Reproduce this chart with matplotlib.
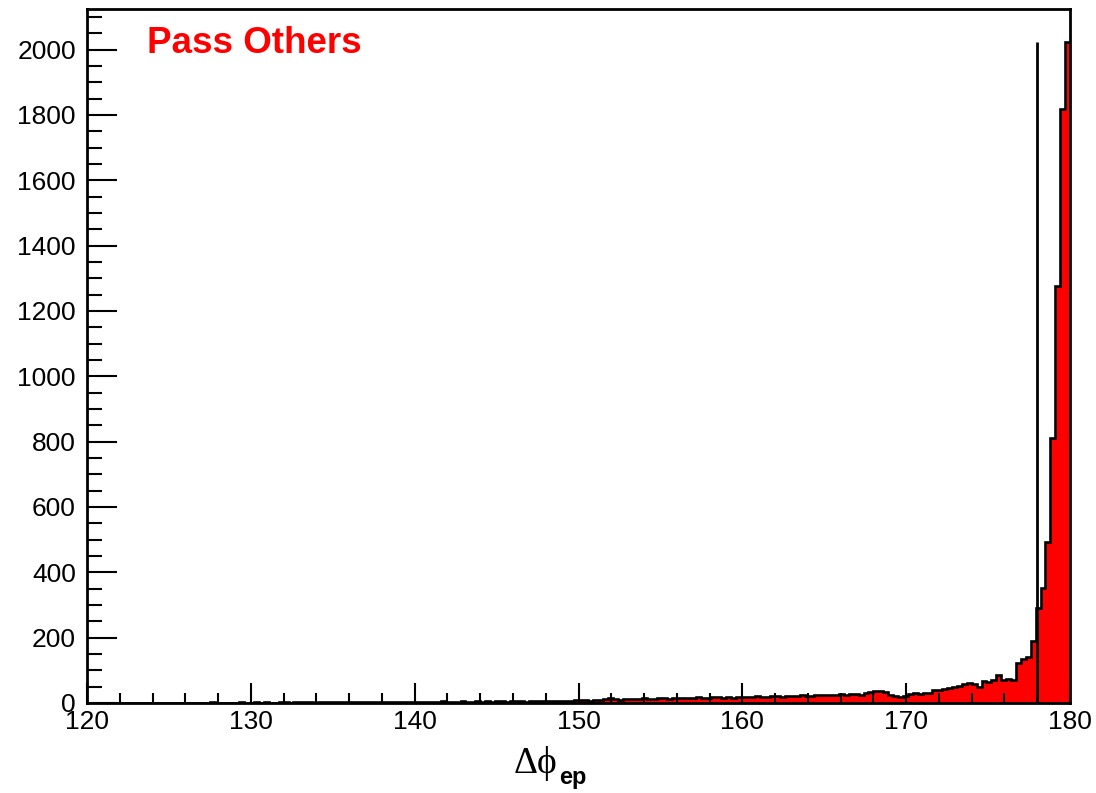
import numpy as np
import matplotlib
matplotlib.use("Agg")
import matplotlib.pyplot as plt
from matplotlib.ticker import MultipleLocator

# Delta-phi (e, p) histogram, 200 bins of 0.3 deg between 120 and 180
x_min, x_max, n_bins = 120.0, 180.0, 200

counts_120_135 = [0, 0, 1, 0, 0, 1, 0, 1, 0, 0, 1, 0, 1, 1, 0, 1, 0, 1, 1, 0,
                  1, 1, 0, 1, 1, 2, 1, 1, 0, 1, 1, 2, 1, 1, 2, 1, 2, 1, 1, 2,
                  2, 1, 2, 3, 2, 2, 1, 2, 3, 2]
counts_135_150 = [2, 3, 2, 2, 3, 2, 3, 3, 2, 3, 3, 4, 3, 3, 4, 3, 2, 4, 3, 4,
                  4, 3, 5, 4, 3, 4, 5, 4, 4, 5, 4, 5, 4, 6, 5, 4, 5, 6, 5, 4,
                  6, 5, 6, 5, 7, 6, 5, 7, 6, 8]
counts_150_165 = [8, 9, 7, 10, 9, 12, 14, 11, 10, 12, 13, 11, 12, 14, 13, 12, 15, 14, 13, 16,
                  15, 14, 16, 15, 17, 16, 14, 17, 18, 16, 17, 15, 18, 17, 19, 18, 20, 17, 19, 21,
                  20, 18, 21, 22, 20, 23, 21, 22, 24, 23]
counts_165_180 = [24, 26, 25, 27, 26, 28, 27, 25, 30, 33, 36, 38, 33, 24, 20, 19, 20, 28, 31, 29,
                  30, 30, 40, 40, 44, 46, 50, 52, 58, 60, 58, 48, 68, 65, 70, 85, 70, 72, 70, 122,
                  135, 142, 190, 291, 352, 494, 812, 1275, 1818, 2022]

cut_value = 178.0
title_text = "Pass Others"

counts = np.array(counts_120_135 + counts_135_150 + counts_150_165 + counts_165_180, dtype=float)
edges = np.linspace(x_min, x_max, n_bins + 1)

W, H = 1096, 793
fig = plt.figure(figsize=(W / 100, H / 100), dpi=100)
ax = fig.add_axes([87 / W, 1 - 703 / H, (1070 - 87) / W, (703 - 9.3) / H])

ax.stairs(counts, edges, fill=True, color="#ff0000", linewidth=0, zorder=1)
ax.stairs(counts, edges, color="black", linewidth=1.9, zorder=1.5)
ax.vlines(cut_value, 0, counts.max(), color="black", linewidth=2.0, zorder=1.6)

ax.set_xlim(x_min, x_max)
ax.set_ylim(0, 1.05 * counts.max())

ax.xaxis.set_major_locator(MultipleLocator(10))
ax.xaxis.set_minor_locator(MultipleLocator(2))
ax.yaxis.set_major_locator(MultipleLocator(200))
ax.yaxis.set_minor_locator(MultipleLocator(50))

font = "Liberation Sans"
ax.tick_params(axis="x", which="major", direction="in", length=14.5, width=1.5, pad=5,
               labelsize=19, top=False)
ax.tick_params(axis="x", which="minor", direction="in", length=7.2, width=1.5, top=False)
ax.tick_params(axis="y", which="major", direction="in", length=21.6, width=1.5, pad=8,
               labelsize=19, right=False)
ax.tick_params(axis="y", which="minor", direction="in", length=10.8, width=1.5, right=False)
for lbl in ax.get_xticklabels() + ax.get_yticklabels():
    lbl.set_family(font)

for sp in ax.spines.values():
    sp.set_linewidth(2.0)

fig.text(147 / W, 1 - 53 / H, title_text, color="#ff0000", fontsize=26.5,
         fontweight="bold", family=font, ha="left", va="baseline")

# axis title: Delta phi with bold "ep" subscript
fig.text(514 / W, 1 - 773 / H, "Δϕ", fontsize=27,
         family=["Liberation Serif", "DejaVu Serif"], ha="left", va="baseline")
fig.text(559 / W, 1 - 784 / H, "ep", fontsize=17, fontweight="bold", family=font,
         ha="left", va="baseline")

fig.savefig("out.png", dpi=100)
